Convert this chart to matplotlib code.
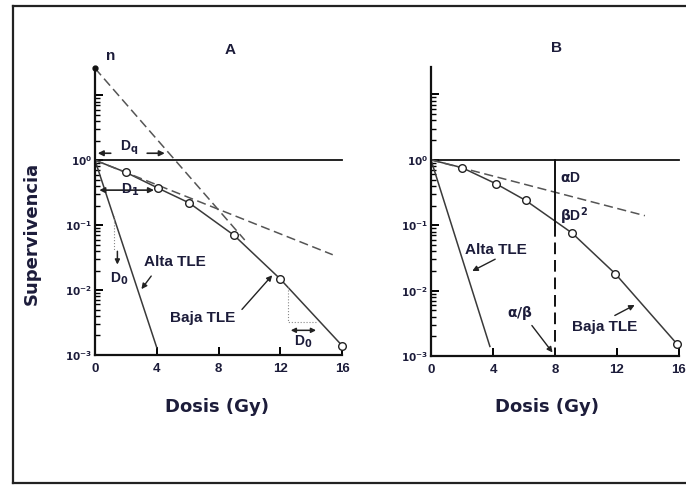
import matplotlib
matplotlib.use('Agg')
import matplotlib.pyplot as plt
from matplotlib.lines import Line2D
from matplotlib.ticker import FixedLocator, FixedFormatter, NullFormatter

# ---------------- data ----------------
dose_a = [0, 2.0, 4.1, 6.1, 9.0, 12.0, 16.0]
surv_a = [1.0, 0.65, 0.37, 0.22, 0.07, 0.0148, 0.0014]
dose_b = [0, 2.0, 4.2, 6.1, 9.1, 11.9, 15.9]
surv_b = [1.0, 0.76, 0.43, 0.24, 0.076, 0.018, 0.0015]
alta_a_dose = [0, 4.0]
alta_a_surv = [1.0, 0.0013]
alta_b_dose = [0, 3.8]
alta_b_surv = [1.0, 0.0014]
n_value = 26.0
extrap_a_dose = [0, 9.7]
extrap_a_surv = [26.0, 0.059]
initial_a_dose = [0, 15.4]
initial_a_surv = [1.0, 0.035]
alpha_b_dose = [0, 13.8]
alpha_b_surv = [1.0, 0.14]
ab_ratio = 8.0
ab_cross = 0.1
x_ticks = [0, 4, 8, 12, 16]
x_ticklabels = ['0', '4', '8', '12', '16']
y_major = [1e-3, 1e-2, 1e-1, 1.0, 10.0]
y_ticklabels = [r'$\mathbf{10^{-3}}$', r'$\mathbf{10^{-2}}$', r'$\mathbf{10^{-1}}$',
                r'$\mathbf{10^{0}}$', '']
y_minor = [m * 10.0 ** e for e in range(-3, 1) for m in range(2, 10)]

TXT = '#1c1c3a'
LN = '#3a3a3a'
ANN = ['Liberation Sans', 'DejaVu Sans']
LAB = ['DejaVu Sans']

W, H = 686, 486
fig = plt.figure(figsize=(W / 100, H / 100), dpi=100)

# outer frame (left, top, bottom)
for (x0, y0, x1, y1) in [(13, 6, 13, 483), (13, 6, 686, 6), (13, 483, 686, 483)]:
    fig.add_artist(Line2D([x0 / W, x1 / W], [1 - y0 / H, 1 - y1 / H],
                          transform=fig.transFigure, color='#222222', lw=1.6))


def make_axes(rect):
    ax = fig.add_axes(rect)
    ax.set_yscale('log')
    ax.set_xlim(0, 16)
    ax.set_ylim(1e-3, 10 ** 1.42)
    for s in ['top', 'right']:
        ax.spines[s].set_visible(False)
    for s in ['left', 'bottom']:
        ax.spines[s].set_linewidth(1.6)
        ax.spines[s].set_color('#111111')
    ax.xaxis.set_major_locator(FixedLocator(x_ticks))
    ax.xaxis.set_major_formatter(FixedFormatter(x_ticklabels))
    ax.yaxis.set_major_locator(FixedLocator(y_major))
    ax.yaxis.set_major_formatter(FixedFormatter(y_ticklabels))
    ax.yaxis.set_minor_locator(FixedLocator(y_minor))
    ax.yaxis.set_minor_formatter(NullFormatter())
    ax.tick_params(axis='x', which='major', direction='in', length=6, width=1.4,
                   pad=6, labelsize=9.5, labelcolor=TXT)
    ax.tick_params(axis='y', which='major', direction='in', length=6, width=1.4,
                   pad=2, labelsize=7.5, labelcolor=TXT)
    ax.tick_params(axis='y', which='minor', direction='in', length=3.5, width=1.0)
    for lab in ax.get_xticklabels():
        lab.set_fontweight('bold')
        lab.set_family(ANN)
    ax.patch.set_visible(False)
    return ax


axA = make_axes([95 / W, 1 - 355 / H, 247 / W, 287 / H])
axB = make_axes([431 / W, 1 - 356 / H, 248 / W, 289 / H])

lk = dict(color=LN, lw=1.1)
dk = dict(color='#555555', lw=1.1, ls=(0, (6, 3)))
mk = dict(marker='o', ms=5.5, mfc='white', mec='#222222', mew=1.0, ls='none', clip_on=False, zorder=5)
tk = dict(fontsize=11, fontweight='bold', color=TXT, family=ANN)
sk = dict(fontsize=10, fontweight='bold', color=TXT, family=ANN)
ak = dict(arrowstyle='-|>', color='#222222', lw=1.0, mutation_scale=8)

# ---------------- panel A ----------------
axA.axhline(1.0, color='#111111', lw=1.3, clip_on=False)
axA.plot(dose_a, surv_a, **lk, clip_on=False)
axA.plot(dose_a[1:], surv_a[1:], **mk)
axA.plot(alta_a_dose, alta_a_surv, **lk)
axA.plot(extrap_a_dose, extrap_a_surv, **dk, clip_on=False)
axA.plot(initial_a_dose, initial_a_surv, **dk)
axA.plot([0], [n_value], marker='o', ms=3.5, color='#111111', clip_on=False, zorder=6)

# Dq arrow
axA.annotate('', xy=(0.0, 1.28), xytext=(1.2, 1.28),
             arrowprops=dict(arrowstyle='-|>', color='#222222', lw=1.2, mutation_scale=8))
axA.annotate('', xy=(4.7, 1.28), xytext=(3.2, 1.28),
             arrowprops=dict(arrowstyle='-|>', color='#222222', lw=1.2, mutation_scale=8))
axA.text(2.2, 1.55, r'D$_{\mathbf{q}}$', ha='center', va='center', **sk)
# D1 arrow
axA.annotate('', xy=(4.0, 0.346), xytext=(0.1, 0.346),
             arrowprops=dict(arrowstyle='<|-|>', color='#222222', lw=1.2, mutation_scale=8))
axA.text(2.3, 0.346, r'D$_{\mathbf{1}}$', ha='center', va='center', **sk)
# D0 (Alta)
axA.plot([1.2, 1.2], [0.14, 10 ** -1.4], color='#888888', lw=0.8, ls=':')
axA.annotate('', xy=(1.45, 10 ** -1.65), xytext=(1.45, 10 ** -1.36),
             arrowprops=dict(arrowstyle='-|>', color='#222222', lw=1.1, mutation_scale=7))
axA.text(1.55, 10 ** -1.82, r'D$_{\mathbf{0}}$', ha='center', va='center', **sk)
# D0 (Baja) triangle
axA.plot([12.5, 12.5, 14.3], [10 ** -1.96, 10 ** -2.49, 10 ** -2.49],
         color='#888888', lw=0.8, ls=':')
axA.annotate('', xy=(14.5, 10 ** -2.62), xytext=(12.5, 10 ** -2.62),
             arrowprops=dict(arrowstyle='<|-|>', color='#222222', lw=1.1, mutation_scale=7))
axA.text(13.5, 10 ** -2.8, r'D$_{\mathbf{0}}$', ha='center', va='center', **sk)
# labels
axA.text(5.2, 10 ** -1.57, 'Alta TLE', ha='center', va='center', **tk)
axA.annotate('', xy=(2.9, 10 ** -2.02), xytext=(3.75, 10 ** -1.75), arrowprops=ak)
axA.text(7.0, 10 ** -2.43, 'Baja TLE', ha='center', va='center', **tk)
axA.annotate('', xy=(11.6, 10 ** -1.74), xytext=(9.4, 10 ** -2.33), arrowprops=ak)

# ---------------- panel B ----------------
axB.axhline(1.0, color='#111111', lw=1.3, clip_on=False)
axB.plot(dose_b, surv_b, **lk, clip_on=False)
axB.plot(dose_b[1:], surv_b[1:], **mk)
axB.plot(alta_b_dose, alta_b_surv, **lk)
axB.plot(alpha_b_dose, alpha_b_surv, **dk)
axB.plot([ab_ratio, ab_ratio], [1.0, ab_cross], color='#111111', lw=1.4)
axB.plot([ab_ratio, ab_ratio], [ab_cross, 1e-3], color='#111111', lw=1.4, ls=(0, (6, 3)))
axB.text(8.3, 10 ** -0.28, r'$\mathbf{\alpha}$D', ha='left', va='center', **sk)
axB.text(8.3, 10 ** -0.86, r'$\mathbf{\beta}$D$^{\mathbf{2}}$', ha='left', va='center', **sk)
axB.text(4.2, 10 ** -1.38, 'Alta TLE', ha='center', va='center', **tk)
axB.annotate('', xy=(2.5, 10 ** -1.72), xytext=(4.3, 10 ** -1.5), arrowprops=ak)
axB.text(5.75, 10 ** -2.35, r'$\mathbf{\alpha/\beta}$', ha='center', va='center', **sk)
axB.annotate('', xy=(7.95, 10 ** -2.98), xytext=(6.4, 10 ** -2.5), arrowprops=ak)
axB.text(11.2, 10 ** -2.56, 'Baja TLE', ha='center', va='center', **tk)
axB.annotate('', xy=(13.3, 10 ** -2.2), xytext=(11.7, 10 ** -2.4), arrowprops=ak)

# ---------------- titles & axis labels ----------------
fig.text(230 / W, 1 - 50 / H, 'A', ha='center', va='center', **tk)
fig.text(557 / W, 1 - 48 / H, 'B', ha='center', va='center', **tk)
fig.text(111 / W, 1 - 56 / H, 'n', ha='center', va='center', **tk)
fig.text(217 / W, 1 - 407 / H, 'Dosis (Gy)', ha='center', va='center',
         fontsize=13, fontweight='bold', color=TXT, family=LAB)
fig.text(547 / W, 1 - 407 / H, 'Dosis (Gy)', ha='center', va='center',
         fontsize=13, fontweight='bold', color=TXT, family=LAB)
fig.text(32 / W, 1 - 233 / H, 'Supervivencia', ha='center', va='center', rotation=90,
         fontsize=13, fontweight='bold', color=TXT, family=LAB)

fig.savefig('out.png', dpi=100)
